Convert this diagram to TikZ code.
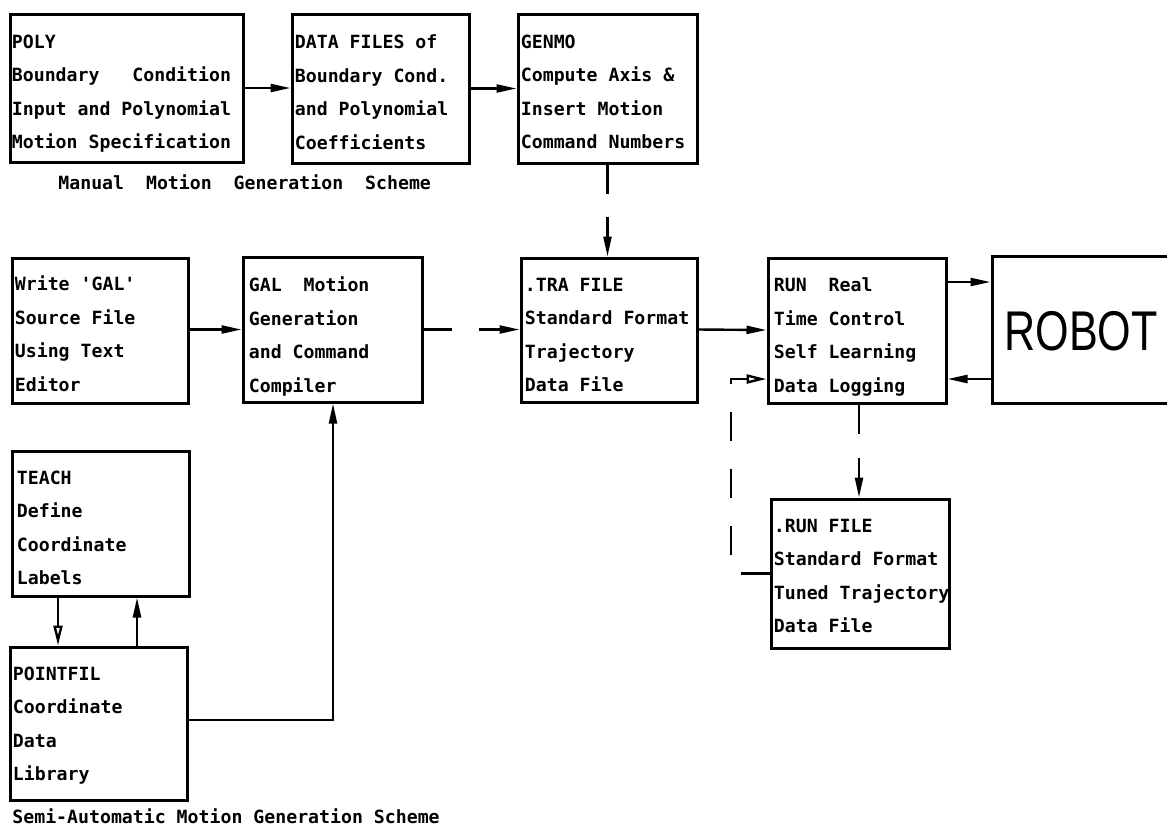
\documentclass[tikz,border=0pt]{standalone}
\usepackage{fontspec}
\setmainfont{Liberation Sans}
\newfontfamily\plotfont{DejaVu Sans Mono}
\usetikzlibrary{arrows.meta,calc}
\begin{document}
\begin{tikzpicture}[x=0.5pt,y=-0.5pt,
  box/.style={draw,line width=1.5pt,inner sep=0pt,rectangle},
  txt/.style={anchor=north west,align=left,inner sep=0pt,font=\plotfont\bfseries\fontsize{9.1}{16.75}\selectfont},
  captxt/.style={anchor=west,inner sep=0pt,font=\plotfont\bfseries\fontsize{9.1}{12}\selectfont},
  conn/.style={line width=1.2pt},
  arr/.style={conn,-{Triangle[length=10pt,width=4pt]}},
  oarr/.style={conn,-{Triangle[open,length=10pt,width=4.5pt]}},
]
\useasboundingbox (0,0) rectangle (1167,827);
\clip (0,0) rectangle (1167,827);

% boxes
\node[box,minimum width=116.5pt,minimum height=74pt] (poly) at (126.5,88) {};
\node[box,minimum width=88.5pt,minimum height=74.5pt] (data) at (380.5,88.5) {};
\node[box,minimum width=89.5pt,minimum height=74.5pt] (genmo) at (607.5,88.5) {};
\node[box,minimum width=88pt,minimum height=72.5pt] (write) at (100,330.5) {};
\node[box,minimum width=89.5pt,minimum height=72.5pt] (gal) at (332.5,329.5) {};
\node[box,minimum width=88pt,minimum height=72pt] (tra) at (609,330) {};
\node[box,minimum width=89pt,minimum height=72.5pt] (run) at (857,330.5) {};
\node[box,minimum width=99pt,minimum height=73.5pt] (robot) at (1091,329.5) {};
\node[box,minimum width=88.5pt,minimum height=72.5pt] (teach) at (100.5,523.5) {};
\node[box,minimum width=88.5pt,minimum height=76.5pt] (pointfil) at (98.5,723.5) {};
\node[box,minimum width=89pt,minimum height=74.5pt] (runfile) at (860,573.5) {};

% texts
\node[txt] (polyt) at ($(poly.north west)+(3,22)$) {POLY\\Boundary\ \ \ Condition\\Input and Polynomial\\Motion Specification};
\node[txt] (datat) at ($(data.north west)+(4,22)$) {DATA FILES of\\Boundary Cond.\\and Polynomial\\Coefficients};
\node[txt] (genmot) at ($(genmo.north west)+(4,22)$) {GENMO\\Compute Axis \&\\Insert Motion\\Command Numbers};
\node[txt] (writet) at ($(write.north west)+(4,19)$) {Write 'GAL'\\Source File\\Using Text\\Editor};
\node[txt] (galt) at ($(gal.north west)+(7,21)$) {GAL\ \ Motion\\Generation\\and Command\\Compiler};
\node[txt] (trat) at ($(tra.north west)+(5,21)$) {.TRA FILE\\Standard Format\\Trajectory\\Data File};
\node[txt] (runt) at ($(run.north west)+(7,21)$) {RUN\ \ Real\\Time Control\\Self Learning\\Data Logging};
\node[txt] (teacht) at ($(teach.north west)+(6,21)$) {TEACH\\Define\\Coordinate\\Labels};
\node[txt] (pointfilt) at ($(pointfil.north west)+(4,21)$) {POINTFIL\\Coordinate\\Data\\Library};
\node[txt] (runfilet) at ($(runfile.north west)+(4,21)$) {.RUN FILE\\Standard Format\\Tuned Trajectory\\Data File};
\node[inner sep=0pt,font=\fontsize{28}{30}\selectfont] (robott) at (1081,331) {\scalebox{0.77}[1]{ROBOT}};

% captions
\node[captxt] (cap1) at (58,182) {Manual\ \ Motion\ \ Generation\ \ Scheme};
\node[captxt] (cap2) at (12,816) {Semi-Automatic Motion Generation Scheme};

% helper coordinates
\coordinate (yrr) at (0,282);
\coordinate (ybr) at (0,379);
\coordinate (fbA) at (731,573.5);
\coordinate (fbB) at (731,379);
\coordinate (xtd) at (58,0);
\coordinate (xtu) at (137,0);
\coordinate (xrf) at (859,0);
\coordinate (pg) at (333,720);

% connectors
\draw[arr] (poly.east) -- (poly.east -| data.west);
\draw[arr] (data.east) -- (genmo.west);
\draw[arr,dash pattern=on 14.5pt off 11.5pt on 60pt] (genmo.south) -- (genmo.south |- tra.north);
\draw[arr] (write.east |- gal.west) -- (gal.west);
\draw[arr,dash pattern=on 14pt off 13.5pt on 60pt] (gal.east) -- (gal.east -| tra.west);
\draw[arr] (tra.east |- gal.east) -- (tra.east -| run.west);
\draw[arr] (run.east |- yrr) -- (robot.west |- yrr);
\draw[arr] (robot.west |- ybr) -- (run.east |- ybr);
\draw[arr,dash pattern=on 14.5pt off 12pt on 60pt] (run.south -| xrf) -- (runfile.north -| xrf);
\draw[oarr,dash pattern=on 14.5pt off 14pt on 14.5pt off 14pt on 14.5pt off 14pt on 14.5pt off 14pt on 60pt]
  (runfile.west |- fbA) -- (fbA) -- (fbB) -- (fbB -| run.west);
\draw[oarr] (teach.south -| xtd) -- (pointfil.north -| xtd);
\draw[arr] (pointfil.north -| xtu) -- (teach.south -| xtu);
\draw[arr] (pointfil.east |- pg) -- (pg) -- (gal.south -| pg);
\end{tikzpicture}
\end{document}
